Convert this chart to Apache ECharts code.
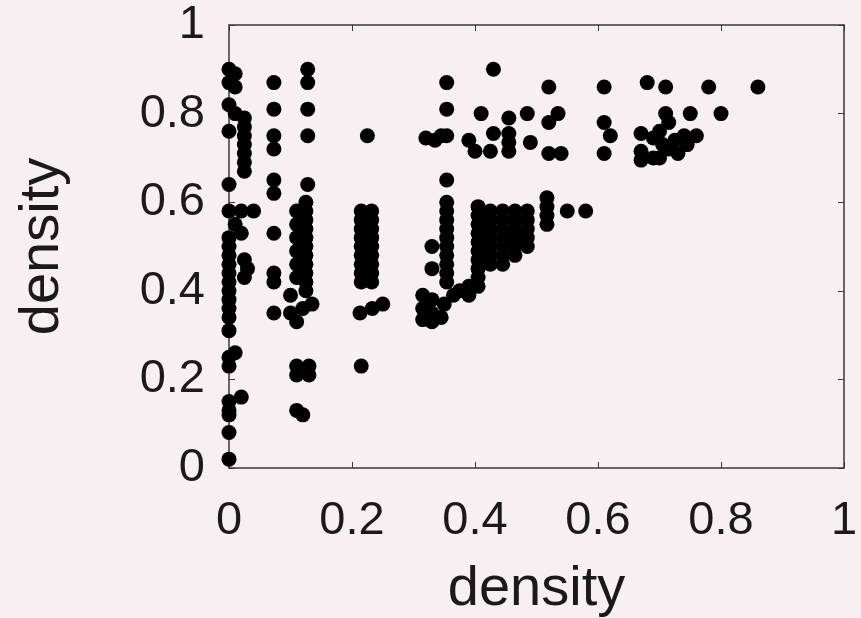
<!DOCTYPE html>
<html>
<head>
<meta charset="utf-8">
<script src="https://cdn.jsdelivr.net/npm/echarts@6/dist/echarts.min.js"></script>
<style>
  html, body { margin: 0; padding: 0; background: #f8eff2; }
  #chart { width: 861px; height: 618px; }
</style>
</head>
<body>
<div id="chart"></div>
<script>
// Tick values shared by both axes
const tickValues = [0, 0.2, 0.4, 0.6, 0.8, 1];
const xTitle = 'density';
const yTitle = 'density';

// Points grouped by the vertical bands they fall in: [x, y]
const bandZero = [
  [0, 0.90], [0.01, 0.89], [0, 0.87], [0.01, 0.86], [0, 0.82], [0.01, 0.80],
  [0, 0.76], [0, 0.64], [0, 0.58], [0.01, 0.55], [0, 0.52], [0, 0.50],
  [0, 0.48], [0, 0.46], [0, 0.44], [0, 0.42], [0, 0.40], [0, 0.38],
  [0, 0.36], [0, 0.34], [0, 0.31], [0.01, 0.26], [0, 0.25], [0, 0.23],
  [0, 0.15], [0, 0.13], [0, 0.12], [0, 0.08], [0, 0.02]
];
const bandNearZero = [
  [0.025, 0.79], [0.025, 0.77], [0.025, 0.75], [0.025, 0.73], [0.025, 0.71],
  [0.025, 0.69], [0.025, 0.67], [0.02, 0.58], [0.04, 0.58], [0.02, 0.53],
  [0.025, 0.47], [0.03, 0.45], [0.025, 0.43], [0.02, 0.16]
];
const bandSeven = [
  [0.073, 0.87], [0.073, 0.81], [0.073, 0.75], [0.073, 0.72], [0.073, 0.65],
  [0.073, 0.62], [0.073, 0.53], [0.073, 0.44], [0.073, 0.42], [0.073, 0.35]
];
const bandTwelve = [
  [0.128, 0.90], [0.128, 0.87], [0.128, 0.81], [0.128, 0.75], [0.128, 0.64],
  [0.125, 0.60], [0.125, 0.58], [0.125, 0.56], [0.125, 0.54], [0.125, 0.52],
  [0.125, 0.50], [0.125, 0.48], [0.125, 0.46], [0.125, 0.44], [0.125, 0.42],
  [0.125, 0.40],
  [0.11, 0.58], [0.11, 0.55], [0.11, 0.52], [0.11, 0.49], [0.11, 0.46], [0.11, 0.43],
  [0.10, 0.39], [0.10, 0.35], [0.11, 0.33], [0.12, 0.36], [0.135, 0.37],
  [0.11, 0.23], [0.13, 0.23], [0.11, 0.21], [0.13, 0.21],
  [0.11, 0.13], [0.12, 0.12]
];
const bandTwentyTwo = [
  [0.225, 0.75],
  [0.215, 0.58], [0.215, 0.56], [0.215, 0.54], [0.215, 0.52], [0.215, 0.50],
  [0.215, 0.48], [0.215, 0.46], [0.215, 0.44], [0.215, 0.42],
  [0.232, 0.58], [0.232, 0.56], [0.232, 0.54], [0.232, 0.52], [0.232, 0.50],
  [0.232, 0.48], [0.232, 0.46], [0.232, 0.44], [0.232, 0.42],
  [0.213, 0.35], [0.233, 0.36], [0.25, 0.37], [0.215, 0.23]
];
const bandThirtyFive = [
  [0.354, 0.87], [0.354, 0.81], [0.32, 0.745], [0.335, 0.74], [0.345, 0.75],
  [0.354, 0.75], [0.354, 0.65],
  [0.354, 0.60], [0.354, 0.58], [0.354, 0.56], [0.354, 0.54], [0.354, 0.52],
  [0.354, 0.50], [0.354, 0.48], [0.354, 0.46], [0.354, 0.44], [0.354, 0.42],
  [0.33, 0.50], [0.33, 0.45],
  [0.315, 0.39], [0.33, 0.38], [0.315, 0.36], [0.33, 0.35], [0.315, 0.335],
  [0.33, 0.33], [0.345, 0.34], [0.35, 0.37], [0.365, 0.39], [0.39, 0.39],
  [0.375, 0.40], [0.39, 0.41]
];
const bandForty = [
  [0.405, 0.59], [0.405, 0.57], [0.405, 0.55], [0.405, 0.53], [0.405, 0.51],
  [0.405, 0.49], [0.405, 0.47], [0.405, 0.45], [0.405, 0.43], [0.405, 0.41],
  [0.425, 0.58], [0.425, 0.56], [0.425, 0.54], [0.425, 0.52], [0.425, 0.50],
  [0.425, 0.48], [0.425, 0.46],
  [0.445, 0.58], [0.445, 0.56], [0.445, 0.54], [0.445, 0.52], [0.445, 0.50],
  [0.445, 0.48], [0.445, 0.46],
  [0.465, 0.58], [0.465, 0.56], [0.465, 0.54], [0.465, 0.52], [0.465, 0.50],
  [0.465, 0.48],
  [0.485, 0.58], [0.485, 0.56], [0.485, 0.54], [0.485, 0.52], [0.485, 0.50],
  [0.517, 0.61], [0.517, 0.59], [0.517, 0.57], [0.517, 0.55],
  [0.55, 0.58], [0.58, 0.58]
];
const upperMiddle = [
  [0.43, 0.90], [0.52, 0.86], [0.41, 0.80], [0.455, 0.79], [0.485, 0.80],
  [0.535, 0.80], [0.52, 0.78], [0.43, 0.755], [0.455, 0.755], [0.49, 0.735],
  [0.455, 0.735], [0.39, 0.74], [0.40, 0.715], [0.425, 0.715], [0.455, 0.715],
  [0.52, 0.71], [0.54, 0.71]
];
const upperRight = [
  [0.61, 0.86], [0.68, 0.87], [0.71, 0.86], [0.78, 0.86], [0.86, 0.86],
  [0.71, 0.80], [0.75, 0.80], [0.80, 0.80], [0.61, 0.78], [0.62, 0.75], [0.61, 0.71],
  [0.67, 0.755], [0.67, 0.715], [0.67, 0.695], [0.69, 0.745], [0.69, 0.70],
  [0.70, 0.76], [0.705, 0.73], [0.715, 0.72], [0.715, 0.78], [0.725, 0.74],
  [0.74, 0.75], [0.745, 0.73], [0.76, 0.75], [0.70, 0.70], [0.73, 0.71]
];

const allPoints = [].concat(
  bandZero, bandNearZero, bandSeven, bandTwelve, bandTwentyTwo,
  bandThirtyFive, bandForty, upperMiddle, upperRight
);

const fontFamily = '"Liberation Sans", Arial, Helvetica, sans-serif';
const frameColor = '#383838';
const textColor = '#1a1a1a';

function makeAxis(kind, position, showLabels, name) {
  const axis = {
    type: 'value',
    position: position,
    min: 0,
    max: 1,
    interval: 0.2,
    splitLine: { show: false },
    axisLine: { show: true, onZero: false, lineStyle: { color: frameColor, width: 1.5 } },
    axisTick: { show: true, inside: true, length: 6, lineStyle: { color: frameColor, width: 1 } },
    axisLabel: {
      show: showLabels,
      color: textColor,
      fontSize: 47,
      fontFamily: fontFamily,
      margin: kind === 'x' ? 30 : 24,
      padding: kind === 'y' ? [6, 0, 0, 0] : 0,
      formatter: function (v) {
        const match = tickValues.find(t => Math.abs(t - v) < 1e-9);
        return match === undefined ? '' : String(match);
      }
    }
  };
  if (name) {
    axis.name = name;
    axis.nameLocation = 'middle';
    axis.nameGap = kind === 'x' ? 94 : 158;
    axis.nameTextStyle = { color: textColor, fontSize: 56, fontFamily: fontFamily };
  }
  return axis;
}

const chart = echarts.init(document.getElementById('chart'), null, { renderer: 'canvas' });
chart.setOption({
  backgroundColor: '#f8eff2',
  animation: false,
  grid: {
    left: 229, right: 17, top: 25, bottom: 150,
    containLabel: false,
    outerBoundsMode: 'none'
  },
  xAxis: [
    makeAxis('x', 'bottom', true, xTitle),
    makeAxis('x', 'top', false, null)
  ],
  yAxis: [
    makeAxis('y', 'left', true, yTitle),
    makeAxis('y', 'right', false, null)
  ],
  series: [{
    type: 'scatter',
    xAxisIndex: 0,
    yAxisIndex: 0,
    symbol: 'circle',
    symbolSize: 15,
    itemStyle: { color: '#000000', opacity: 1 },
    data: allPoints
  }]
});
</script>
</body>
</html>
